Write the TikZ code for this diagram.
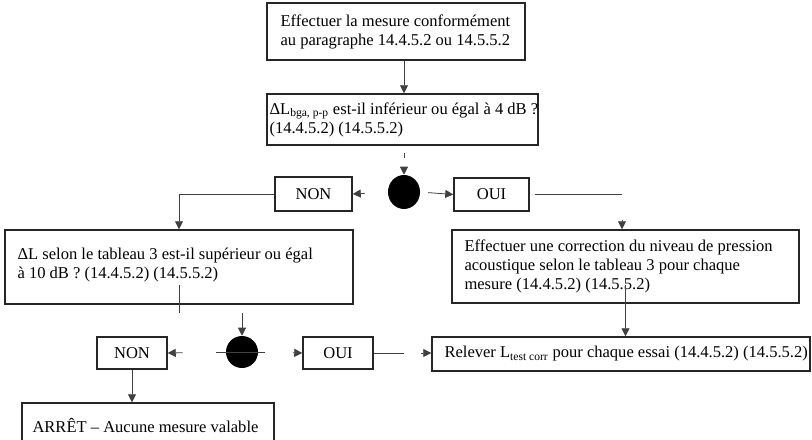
\documentclass[tikz,border=0pt]{standalone}
\usepackage{fontspec}
\setmainfont{Liberation Serif}
\usetikzlibrary{arrows.meta,calc,shapes.geometric}
\begin{document}
\begin{tikzpicture}[x=0.75pt,y=-0.75pt,
  box/.style={draw=black!85, line width=1.1pt, inner sep=0pt},
  txt/.style={anchor=west, align=left, inner sep=0pt, font=\fontsize{12.4}{14.3}\selectfont},
  lbl/.style={box, font=\fontsize{12.4}{14.3}\selectfont},
  dot/.style={fill=black, inner sep=0pt},
  con/.style={draw=black!75, line width=0.6pt},
  arr/.style={con, -{Triangle[length=6pt,width=6pt]}},
]
\useasboundingbox (0,0) rectangle (812,439);

% boxes
\node[box, minimum width=193.5pt, minimum height=42.75pt] (b1) at (396,31.5) {};
\node[txt] (t1) at ($(b1.west)+(14,0)$) {Effectuer la mesure conformément\\au paragraphe 14.4.5.2 ou 14.5.5.2};

\node[box, minimum width=203.25pt, minimum height=38.25pt] (b2) at (402.5,119.5) {};
\node[txt] (t2) at ($(b2.west)+(3,0)$) {ΔL\textsubscript{bga, p-p} est-il inférieur ou égal à 4 dB ?\\(14.4.5.2) (14.5.5.2)};

\node[box, minimum width=261pt, minimum height=55.5pt] (b3) at (179,267) {};
\node[txt] (t3) at ($(b3.west)+(13,-2)$) {ΔL selon le tableau 3 est-il supérieur ou égal\\à 10 dB ? (14.4.5.2) (14.5.5.2)};

\node[box, minimum width=260.25pt, minimum height=54.75pt] (b4) at (625.5,266.5) {};
\node[txt] (t4) at ($(b4.west)+(13,0)$) {Effectuer une correction du niveau de pression\\acoustique selon le tableau 3 pour chaque\\mesure (14.4.5.2) (14.5.5.2)};

\node[box, minimum width=283.5pt, minimum height=25.5pt] (b5) at (621,354) {};
\node[txt] (t5) at ($(b5.west)+(13,0)$) {Relever L\textsubscript{test corr} pour chaque essai (14.4.5.2) (14.5.5.2)};

\node[box, minimum width=189pt, minimum height=33pt] (b6) at (148,425) {};
\node[txt] (t6) at ($(b6.west)+(11,0)$) {ARRÊT – Aucune mesure valable};

\node[lbl, minimum width=57.75pt, minimum height=25.5pt] (n1) at (313.5,194) {NON};
\node[lbl, minimum width=56.25pt, minimum height=24.75pt] (o1) at (491.5,194.5) {OUI};
\node[lbl, minimum width=52.5pt, minimum height=24pt] (n2) at (132,353) {NON};
\node[lbl, minimum width=52.5pt, minimum height=24pt] (o2) at (338,353) {OUI};

\node[dot, ellipse, minimum width=24pt, minimum height=25.5pt] (c1) at (404,192) {};
\node[dot, circle, minimum size=24pt] (c2) at (242,352) {};

\coordinate (k1) at (622,194);

% connectors
\draw[arr] (b1.south -| c1.north) -- (b2.north -| c1.north);
\draw[con] (b2.south -| c1.north) ++(0,7) -- ++(0,5);
\draw[arr] ($(c1.north)+(0,-8)$) -- (c1.north);
\draw[arr, shorten <=17pt] (c1.west) -- (n1.east);
\draw[arr, shorten <=6pt] (c1.east) -- (o1.west);
\draw[arr] (n1.west) -| (b3.north);
\draw[con, shorten <=3.75pt] (o1.east) -- (o1.east -| k1);
\draw[arr] ($(b4.north -| k1)+(0,-9)$) -- (b4.north -| k1);

\draw[con] ($(b3.center)+(0,18)$) -- ($(b3.south)+(0,8)$);
\draw[arr] ($(c2.north)+(0,-23)$) -- (c2.north);
\draw[con] ($(c2.west)+(-10,0)$) -- ($(c2.east)+(7,0)$);
\draw[arr, shorten <=32.25pt] (c2.west) -- (n2.east);
\draw[arr, shorten <=26pt] (c2.east) -- (o2.west);
\draw[con] (o2.east) -- ++(30,0);
\draw[arr, shorten <=35.5pt] (o2.east) -- (o2.east -| b5.west);
\draw[arr] ($(b4.center)+(0,18)$) -- (b5.north -| b4.center);
\draw[arr] (n2.south) -- (n2.south |- b6.north);
\end{tikzpicture}
\end{document}
